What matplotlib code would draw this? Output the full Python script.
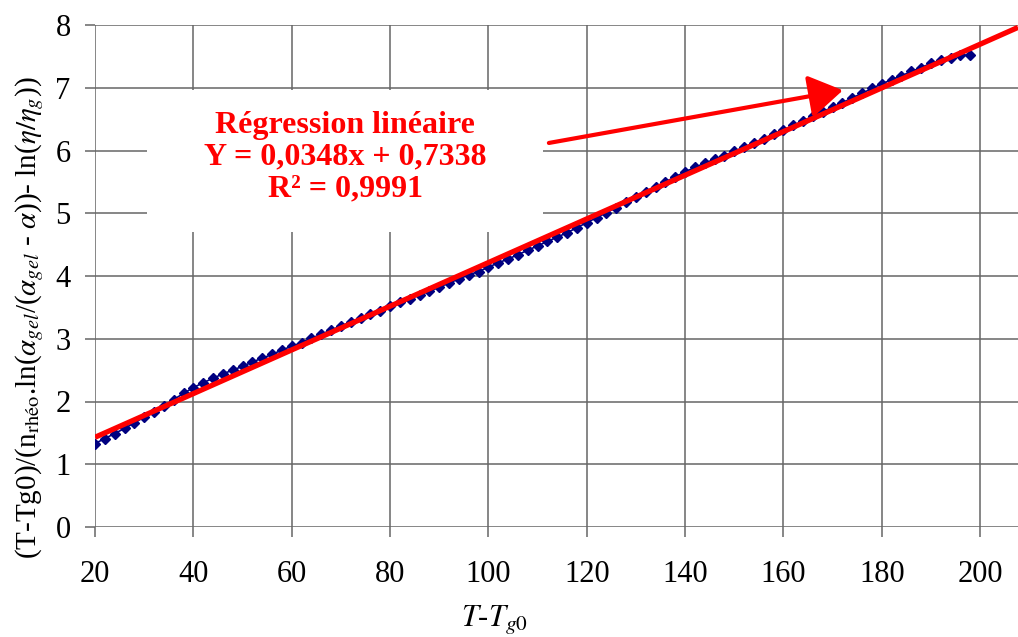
import matplotlib
matplotlib.use("Agg")
import matplotlib.pyplot as plt
from matplotlib.patches import Rectangle

plt.rcParams['font.family'] = ['Liberation Serif', 'DejaVu Serif']
plt.rcParams['mathtext.fontset'] = 'stix'

# données
t_ecart = [20, 22, 24, 26, 28, 30, 32, 34, 36, 38, 40, 42, 44, 46, 48, 50, 52, 54, 56, 58,
           60, 62, 64, 66, 68, 70, 72, 74, 76, 78, 80, 82, 84, 86, 88, 90, 92, 94, 96, 98,
           100, 102, 104, 106, 108, 110, 112, 114, 116, 118, 120, 122, 124, 126, 128, 130,
           132, 134, 136, 138, 140, 142, 144, 146, 148, 150, 152, 154, 156, 158, 160, 162,
           164, 166, 168, 170, 172, 174, 176, 178, 180, 182, 184, 186, 188, 190, 192, 194,
           196, 198]
y_mesure = [1.33, 1.41, 1.49, 1.57, 1.66, 1.75, 1.83, 1.93, 2.03, 2.13, 2.22, 2.30, 2.37,
            2.44, 2.50, 2.56, 2.63, 2.69, 2.75, 2.82, 2.88, 2.94, 3.01, 3.07, 3.14, 3.20,
            3.27, 3.33, 3.39, 3.45, 3.52, 3.58, 3.64, 3.70, 3.76, 3.82, 3.89, 3.95, 4.02,
            4.07, 4.14, 4.21, 4.27, 4.34, 4.41, 4.48, 4.55, 4.62, 4.69, 4.77, 4.85, 4.93,
            5.01, 5.09, 5.18, 5.26, 5.34, 5.42, 5.50, 5.58, 5.66, 5.73, 5.80, 5.86, 5.92,
            5.99, 6.05, 6.12, 6.19, 6.26, 6.33, 6.40, 6.47, 6.55, 6.62, 6.69, 6.76, 6.84,
            6.91, 6.99, 7.06, 7.13, 7.19, 7.26, 7.32, 7.39, 7.44, 7.47, 7.52, 7.52]

# régression linéaire donnée sur la figure
pente = 0.0348
ordonnee = 0.7338
x_fit = [20, 207.7]
y_fit = [pente * x + ordonnee for x in x_fit]

x_ticks = [20, 40, 60, 80, 100, 120, 140, 160, 180, 200]
y_ticks = [0, 1, 2, 3, 4, 5, 6, 7, 8]

fig = plt.figure(figsize=(10.18, 6.37), dpi=100)
ax = fig.add_axes([95 / 1018, 1 - 527 / 637, 1 - 95 / 1018, (527 - 25) / 637])

grille = '#666666'
ax.set_xlim(20, 207.7)
ax.set_ylim(0, 8)
ax.set_xticks(x_ticks)
ax.set_yticks(y_ticks)
ax.grid(True, color=grille, lw=1.1)
ax.set_axisbelow(True)
for s in ax.spines.values():
    s.set_visible(False)
ax.tick_params(axis='both', direction='out', length=7.5, width=1.1, color=grille,
               labelsize=22)
ax.tick_params(axis='x', pad=16)
ax.tick_params(axis='y', pad=10)

ax.plot(t_ecart, y_mesure, color='#000080', lw=1.2, marker='D', markersize=5.5,
        zorder=3)
ax.plot(x_fit, y_fit, color='#ff0000', lw=3.8, zorder=4, solid_capstyle='butt')

# cadre blanc derrière le texte
ax.add_patch(Rectangle((30.6, 4.70), 80.5, 2.27, facecolor='white',
                       edgecolor='none', zorder=1))
ax.text(20 + (345 - 95) / 4.917, (527 - 157) / 62.75,
        'Régression linéaire\nY = 0,0348x + 0,7338\nR² = 0,9991',
        color='#ff0000', fontsize=23, fontweight='bold', ha='center', va='center',
        linespacing=1.12, zorder=5)

ax.annotate('', xy=(172.1, 6.96), xytext=(112.3, 6.12),
            arrowprops=dict(arrowstyle='-|>,head_length=0.4,head_width=0.25',
                            color='#ff0000', lw=3, mutation_scale=52,
                            shrinkA=0, shrinkB=0), zorder=6)

ax.set_xlabel(r'$\mathit{T}$-$\mathit{T_{g0}}$', fontsize=22)
ax.xaxis.set_label_coords((494 - 95) / 923, (527 - 619) / 502)
ax.set_ylabel(r'(T-Tg0)/(n$_{\mathrm{rhéo}}$.ln($\alpha_{gel}$/($\alpha_{gel}$ - $\alpha$))'
              r'- ln($\eta/\eta_g$))', fontsize=21)
ax.yaxis.set_label_coords((30 - 95) / 923, (527 - 318) / 502)
ax.yaxis.label.set_va('center')
ax.xaxis.label.set_va('center')

fig.savefig('out.png', dpi=100)
